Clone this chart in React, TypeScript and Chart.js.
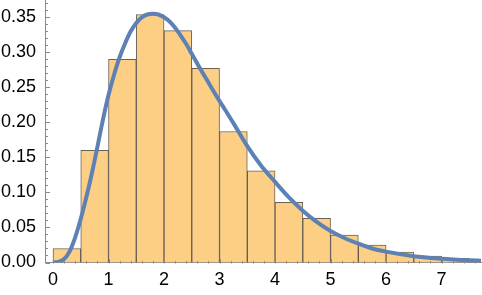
import React, { useEffect, useRef } from 'react';
import { Chart, registerables } from 'chart.js';

Chart.register(...registerables);

// Histogram bins (width 0.5) — centers and heights
const binCenters = [0.25, 0.75, 1.25, 1.75, 2.25, 2.75, 3.25, 3.75, 4.25, 4.75, 5.25, 5.75, 6.25, 6.75, 7.25];
const binHeights = [0.02, 0.16, 0.29, 0.354, 0.331, 0.277, 0.187, 0.131, 0.086, 0.063, 0.039, 0.025, 0.015, 0.009, 0.006];

// Density curve points
const curveX = [0, 0.1, 0.2, 0.3, 0.4, 0.5, 0.6, 0.7, 0.8, 0.9, 1.0, 1.1, 1.2, 1.3, 1.4, 1.5, 1.6, 1.7, 1.8, 1.9, 2.0, 2.1, 2.2, 2.3, 2.4, 2.5, 2.65, 2.8, 2.95, 3.1, 3.25, 3.5, 3.75, 4.0, 4.25, 4.5, 4.75, 5.0, 5.25, 5.5, 5.75, 6.0, 6.5, 7.0, 7.5, 7.71];
const curveY = [0, 0.001, 0.005, 0.016, 0.036, 0.062, 0.093, 0.127, 0.165, 0.204, 0.239, 0.268, 0.293, 0.313, 0.33, 0.342, 0.35, 0.354, 0.355, 0.354, 0.35, 0.344, 0.335, 0.324, 0.312, 0.298, 0.277, 0.257, 0.237, 0.218, 0.199, 0.166, 0.138, 0.115, 0.093, 0.074, 0.058, 0.045, 0.035, 0.027, 0.02, 0.0155, 0.009, 0.0055, 0.0032, 0.0025];

// Axis ticks
const xTickValues = [0, 1, 2, 3, 4, 5, 6, 7];
const yTickValues = [0, 0.05, 0.1, 0.15, 0.2, 0.25, 0.3, 0.35];
const xMinorStep = 0.2;
const yMinorStep = 0.01;

const FONT = '"Liberation Sans", Arial, Helvetica, sans-serif';
const AXIS_COLOR = '#8a8a8a';

const tickPlugin = {
  id: 'mmaTicks',
  afterDatasetsDraw(chart: any) {
    const ctx = chart.ctx;
    const xs = chart.scales.x;
    const ys = chart.scales.y;
    const area = chart.chartArea;
    ctx.save();
    ctx.strokeStyle = AXIS_COLOR;
    ctx.lineWidth = 1;
    // x ticks (pointing up from axis)
    const y0 = Math.round(ys.getPixelForValue(0)) + 0.5;
    for (let i = 0; i * xMinorStep <= xs.max + 1e-9; i++) {
      const v = i * xMinorStep;
      const major = i % 5 === 0;
      const px = Math.round(xs.getPixelForValue(v)) + 0.5;
      const len = major ? 4.5 : 2.5;
      ctx.beginPath();
      ctx.moveTo(px, y0);
      ctx.lineTo(px, y0 - len);
      ctx.stroke();
    }
    // y ticks (pointing right from axis)
    const x0 = Math.round(area.left) + 0.5;
    for (let i = 0; i * yMinorStep <= ys.max + 1e-9; i++) {
      const v = i * yMinorStep;
      const major = i % 5 === 0;
      const py = Math.round(ys.getPixelForValue(v)) + 0.5;
      const len = major ? 4.5 : 2.5;
      ctx.beginPath();
      ctx.moveTo(x0, py);
      ctx.lineTo(x0 + len, py);
      ctx.stroke();
    }
    ctx.restore();
  },
};

export default function App() {
  const canvasRef = useRef<HTMLCanvasElement | null>(null);

  useEffect(() => {
    if (!canvasRef.current) return;
    const chart = new Chart(canvasRef.current, {
      type: 'bar',
      data: {
        datasets: [
          {
            type: 'line',
            data: curveX.map((x, i) => ({ x, y: curveY[i] })),
            borderColor: '#5e81b5',
            borderWidth: 4,
            pointRadius: 0,
            fill: false,
            cubicInterpolationMode: 'monotone',
            order: 0,
          } as any,
          {
            type: 'bar',
            data: binCenters.map((x, i) => ({ x, y: binHeights[i] })),
            backgroundColor: '#fdcf84',
            borderColor: 'rgba(80,70,60,0.85)',
            borderWidth: 1,
            borderSkipped: 'bottom',
            barPercentage: 1,
            categoryPercentage: 1,
            order: 1,
          } as any,
        ],
      },
      options: {
        animation: false,
        responsive: false,
        events: [],
        layout: { padding: { top: 0, right: 1, left: 0, bottom: 0 } },
        plugins: {
          legend: { display: false },
          tooltip: { enabled: false },
        },
        scales: {
          x: {
            type: 'linear',
            offset: false,
            min: -0.144,
            max: 7.71,
            grid: { display: false, drawTicks: false },
            border: { display: true, color: AXIS_COLOR, width: 1 },
            afterBuildTicks: (scale: any) => {
              scale.ticks = xTickValues.map((v) => ({ value: v }));
            },
            afterFit: (scale: any) => {
              scale.height = 32.5;
              scale.paddingLeft = 0;
              scale.paddingRight = 0;
            },
            ticks: {
              color: '#000',
              padding: 7,
              maxRotation: 0,
              autoSkip: false,
              font: { family: FONT, size: 18 },
              callback: (v: any) => String(v),
            },
          },
          y: {
            type: 'linear',
            min: 0,
            max: 0.3747,
            grid: { display: false, drawTicks: false },
            border: { display: true, color: AXIS_COLOR, width: 1 },
            afterBuildTicks: (scale: any) => {
              scale.ticks = yTickValues.map((v) => ({ value: v }));
            },
            afterFit: (scale: any) => {
              scale.width = 45;
              scale.paddingTop = 0;
              scale.paddingBottom = 0;
            },
            ticks: {
              color: '#000',
              padding: 9,
              autoSkip: false,
              font: { family: FONT, size: 18 },
              callback: (v: any) => Number(v).toFixed(2),
            },
          },
        },
      } as any,
      plugins: [tickPlugin],
    });
    return () => chart.destroy();
  }, []);

  return (
    <div style={{ position: 'absolute', left: 0, top: 0, width: 482, height: 295, background: '#fff' }}>
      <canvas ref={canvasRef} width={482} height={295} style={{ display: 'block' }} />
    </div>
  );
}
